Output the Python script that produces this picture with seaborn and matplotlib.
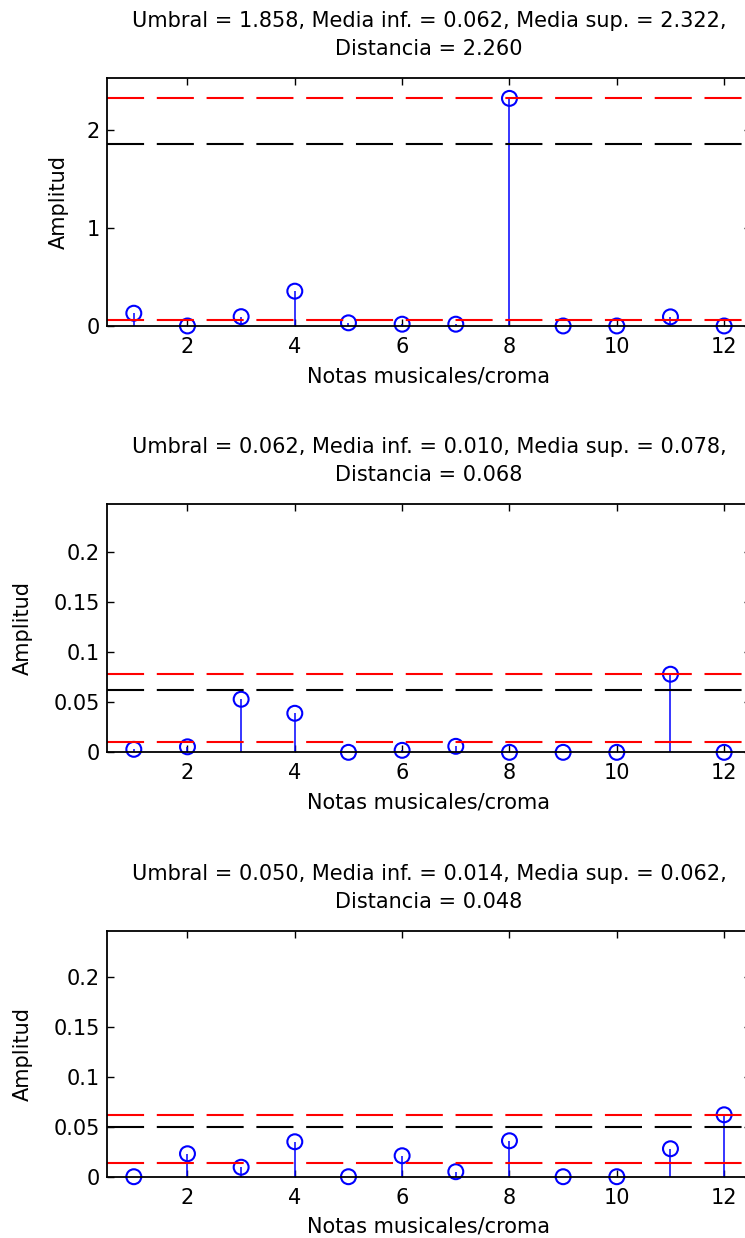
import numpy as np
import matplotlib
matplotlib.use("Agg")
import matplotlib.pyplot as plt
import seaborn as sns

# Chroma vectors (12 musical notes) for three analysed frames
notes = np.arange(1, 13)
amp_frame1 = [0.13, 0.0, 0.095, 0.355, 0.032, 0.018, 0.018, 2.322, 0.0, 0.0, 0.093, 0.0]
amp_frame2 = [0.003, 0.0055, 0.053, 0.039, 0.0, 0.002, 0.006, 0.0, 0.0, 0.0, 0.078, 0.0]
amp_frame3 = [0.0, 0.023, 0.0095, 0.035, 0.0, 0.021, 0.005, 0.036, 0.0, 0.0, 0.028, 0.062]

# Detection statistics per frame
umbral = [1.858, 0.062, 0.050]
media_inf = [0.062, 0.010, 0.014]
media_sup = [2.322, 0.078, 0.062]
distancia = [2.260, 0.068, 0.048]

# Axis settings per frame
ylims = [2.53, 0.248, 0.246]
yticks = [[0, 1, 2], [0, 0.05, 0.1, 0.15, 0.2], [0, 0.05, 0.1, 0.15, 0.2]]
yticklabels = [["0", "1", "2"], ["0", "0.05", "0.1", "0.15", "0.2"], ["0", "0.05", "0.1", "0.15", "0.2"]]
xticks = [2, 4, 6, 8, 10, 12]

sns.set_theme(style="ticks")
plt.rcParams["font.family"] = ["DejaVu Sans"]

fig = plt.figure(figsize=(7.45, 12.38), dpi=100)

# axes rectangles (left, bottom, width, height); the right edge runs past the canvas
rects = [
    [0.1436, 0.7367, 0.8644, 0.2003],
    [0.1436, 0.3923, 0.8644, 0.2006],
    [0.1436, 0.0495, 0.8644, 0.1985],
]
ylabel_x = [-0.075, -0.130, -0.130]
frames = [amp_frame1, amp_frame2, amp_frame3]

dash = (0, (17.8, 6.1))
fs = 15

for i, amp in enumerate(frames):
    ax = fig.add_axes(rects[i])
    ax.set_facecolor("white")

    # stems
    ax.vlines(notes, 0, amp, color="blue", lw=1.1, zorder=2)
    # stem heads
    sns.scatterplot(x=notes, y=amp, ax=ax, marker="o", s=115, color="blue",
                    facecolor="none", edgecolor="blue", linewidth=1.5,
                    clip_on=False, zorder=3, legend=False)

    # threshold and class means
    ax.axhline(media_sup[i], color="red", lw=1.5, ls=dash, zorder=4)
    ax.axhline(umbral[i], color="black", lw=1.5, ls=dash, zorder=4)
    ax.axhline(media_inf[i], color="red", lw=1.5, ls=dash, zorder=4)

    ax.set_xlim(0.5, 12.5)
    ax.set_ylim(0, ylims[i])
    ax.set_xticks(xticks)
    ax.set_xticklabels([str(t) for t in xticks])
    ax.set_yticks(yticks[i])
    ax.set_yticklabels(yticklabels[i])

    for sp in ax.spines.values():
        sp.set_visible(True)
        sp.set_color("black")
        sp.set_linewidth(1.3)
        sp.set_zorder(5)

    ax.tick_params(direction="in", length=5, width=1, top=True, right=True,
                   labelsize=fs, colors="black", pad=8)
    ax.tick_params(axis="y", pad=5)

    ax.set_xlabel("Notas musicales/croma", fontsize=fs, color="black")
    ax.xaxis.set_label_coords(0.5, -0.202)
    ax.xaxis.label.set_va("center")
    ax.set_ylabel("Amplitud", fontsize=fs, color="black")
    ax.yaxis.set_label_coords(ylabel_x[i], 0.5)
    ax.yaxis.label.set_va("center")

    title = (f"Umbral = {umbral[i]:.3f}, Media inf. = {media_inf[i]:.3f}, "
             f"Media sup. = {media_sup[i]:.3f},\nDistancia = {distancia[i]:.3f}")
    ax.set_title(title, fontsize=fs, color="black", pad=16.5, linespacing=1.5)

fig.savefig("out.png", dpi=100, facecolor="white")
